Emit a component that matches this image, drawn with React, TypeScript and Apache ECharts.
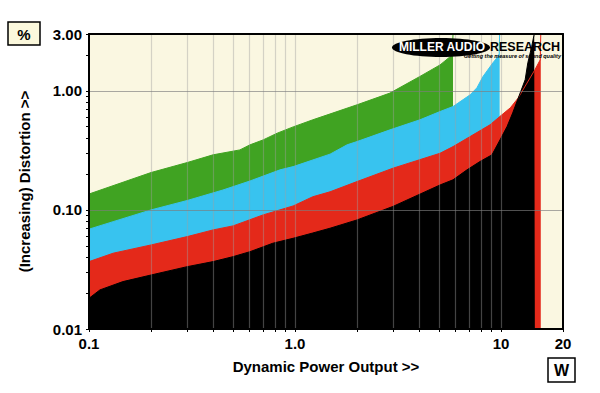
import React, { useEffect, useRef } from "react";
import * as echarts from "echarts";

// Dynamic power (W) vs distortion (%) – four load curves
const greenX = [0.1, 0.2, 0.3, 0.4, 0.54, 0.605, 0.7, 0.82, 0.98, 1.22, 2.0, 2.89, 4.04, 5.06, 5.8, 5.85];
const greenY = [0.136, 0.206, 0.25, 0.29, 0.319, 0.352, 0.387, 0.441, 0.498, 0.571, 0.763, 0.957, 1.32, 1.65, 2.0, 3.0];

const cyanX = [0.1, 0.131, 0.2, 0.3, 0.447, 0.605, 0.846, 0.98, 1.48, 1.79, 2.0, 2.89, 4.04, 5.06, 5.85, 7.08, 7.64, 8.18, 9.14, 9.67, 9.8, 9.85];
const cyanY = [0.0689, 0.0797, 0.1, 0.12, 0.147, 0.175, 0.217, 0.231, 0.294, 0.352, 0.375, 0.47, 0.571, 0.67, 0.738, 0.925, 1.06, 1.32, 1.72, 1.94, 2.05, 3.0];

const redX = [0.1, 0.131, 0.2, 0.3, 0.4, 0.5, 0.7, 0.98, 1.22, 1.48, 2.0, 2.99, 5.06, 5.85, 7.08, 8.84, 10.1, 11.1, 12.1, 14.6, 15.5, 15.6];
const redY = [0.0368, 0.0433, 0.0508, 0.0597, 0.0679, 0.0734, 0.0908, 0.108, 0.129, 0.142, 0.173, 0.224, 0.299, 0.34, 0.413, 0.518, 0.629, 0.72, 0.868, 1.5, 1.82, 3.0];

const blackX = [0.1, 0.113, 0.146, 0.2, 0.3, 0.4, 0.5, 0.605, 0.78, 0.98, 1.22, 1.48, 2.0, 2.99, 5.06, 5.85, 6.84, 7.91, 9.04, 9.89, 10.7, 11.4, 12.4, 13.1, 13.5, 14.1, 14.5, 14.6];
const blackY = [0.0181, 0.0213, 0.025, 0.0284, 0.0334, 0.0368, 0.0405, 0.0446, 0.0525, 0.0578, 0.064, 0.0702, 0.0824, 0.107, 0.162, 0.179, 0.217, 0.255, 0.29, 0.387, 0.501, 0.653, 0.962, 1.24, 1.72, 2.36, 3.0, 3.0];

// axes
const xLabelValues = [0.1, 1, 10, 20];
const xLabelTexts = ["0.1", "1.0", "10", "20"];
const xTickValues = [0.1, 0.2, 0.3, 0.4, 0.5, 0.6, 0.7, 0.8, 0.9, 1, 2, 3, 4, 5, 6, 7, 8, 9, 10, 20];
const xGridValues = [0.2, 0.3, 0.4, 0.5, 0.6, 0.7, 0.8, 0.9, 1, 2, 3, 4, 5, 6, 7, 8, 9, 10];

const yLabelValues = [0.01, 0.1, 1, 3];
const yLabelTexts = ["0.01", "0.10", "1.00", "3.00"];
const yTickValues = [0.01, 0.02, 0.03, 0.04, 0.05, 0.06, 0.07, 0.08, 0.09, 0.1, 0.2, 0.3, 0.4, 0.5, 0.6, 0.7, 0.8, 0.9, 1, 2, 3];
const yGridValues = [0.1, 1];

const FONT = "'Liberation Sans', Arial, Helvetica, sans-serif";

function pairs(xs: number[], ys: number[]) {
  return xs.map((x, i) => [x, ys[i]]);
}

function labelFor(values: number[], texts: string[]) {
  return (v: number) => {
    for (let i = 0; i < values.length; i++) {
      if (Math.abs(Math.log10(v) - Math.log10(values[i])) < 1e-4) return texts[i];
    }
    return "";
  };
}

function areaSeries(name: string, color: string, xs: number[], ys: number[]) {
  return {
    name,
    type: "line",
    data: pairs(xs, ys),
    showSymbol: false,
    symbol: "none",
    lineStyle: { color, width: 1 },
    areaStyle: { color, opacity: 1, origin: "start" },
    itemStyle: { color },
    silent: true,
  };
}

export default function App() {
  const ref = useRef<HTMLDivElement>(null);

  useEffect(() => {
    if (!ref.current) return;
    const chart = echarts.init(ref.current, null, { renderer: "svg" });
    const frameAxis = { show: true, lineStyle: { color: "#000", width: 2 } };
    const option: any = {
      animation: false,
      backgroundColor: "#ffffff",
      grid: {
        left: 89,
        right: 37,
        top: 34,
        bottom: 64,
        show: true,
        backgroundColor: "#faf7e1",
        borderWidth: 0,
      },
      xAxis: [
        {
          type: "log",
          logBase: 10,
          min: 0.1,
          max: 20,
          z: 10,
          axisLine: { ...frameAxis, onZero: false },
          axisTick: {
            show: true,
            inside: false,
            length: 3,
            lineStyle: { color: "#000", width: 1 },
            customValues: xTickValues,
          },
          axisLabel: {
            show: true,
            margin: 7,
            color: "#000",
            fontFamily: FONT,
            fontWeight: "bold",
            fontSize: 15,
            customValues: xLabelValues,
            formatter: labelFor(xLabelValues, xLabelTexts),
          },
          splitLine: { show: false },
          minorTick: { show: false },
          name: "Dynamic Power Output >>",
          nameLocation: "middle",
          nameGap: 30,
          nameTextStyle: { color: "#000", fontFamily: FONT, fontWeight: "bold", fontSize: 15 },
        },
        {
          type: "log",
          logBase: 10,
          min: 0.1,
          max: 20,
          position: "top",
          z: 10,
          axisLine: { ...frameAxis, onZero: false },
          axisTick: { show: false },
          axisLabel: { show: false },
          splitLine: { show: false },
        },
      ],
      yAxis: [
        {
          type: "log",
          logBase: 10,
          min: 0.01,
          max: 3,
          z: 10,
          axisLine: { ...frameAxis, onZero: false },
          axisTick: {
            show: true,
            inside: false,
            length: 3,
            lineStyle: { color: "#000", width: 1 },
            customValues: yTickValues,
          },
          axisLabel: {
            show: true,
            margin: 7,
            color: "#000",
            fontFamily: FONT,
            fontWeight: "bold",
            fontSize: 15,
            customValues: yLabelValues,
            formatter: labelFor(yLabelValues, yLabelTexts),
          },
          splitLine: { show: false },
          minorTick: { show: false },
          name: "(Increasing) Distortion >>",
          nameLocation: "middle",
          nameGap: 57,
          nameTextStyle: { color: "#000", fontFamily: FONT, fontWeight: "bold", fontSize: 15 },
        },
        {
          type: "log",
          logBase: 10,
          min: 0.01,
          max: 3,
          position: "right",
          z: 10,
          axisLine: { ...frameAxis, onZero: false },
          axisTick: { show: false },
          axisLabel: { show: false },
          splitLine: { show: false },
        },
      ],
      series: [
        areaSeries("green", "#40a322", greenX, greenY),
        areaSeries("cyan", "#38c3ef", cyanX, cyanY),
        areaSeries("red", "#e4291a", redX, redY),
        areaSeries("black", "#000000", blackX, blackY),
        {
          name: "grid",
          type: "line",
          data: [[0.1, 0.01]],
          showSymbol: false,
          symbol: "none",
          lineStyle: { opacity: 0 },
          z: 5,
          silent: true,
          markLine: {
            silent: true,
            symbol: "none",
            label: { show: false },
            animation: false,
            data: [
              ...xGridValues.map((v) => ({
                xAxis: v,
                lineStyle: { color: "rgba(160,160,160,0.42)", width: 1.2, type: "solid" },
              })),
              ...yGridValues.map((v) => ({
                yAxis: v,
                lineStyle: { color: "rgba(125,125,125,0.65)", width: 1.2, type: "solid" },
              })),
            ],
          },
        },
      ],
      graphic: [
        {
          type: "rect",
          z: 100,
          shape: { x: 8, y: 22, width: 32, height: 23 },
          style: { fill: "#fbf8dc", stroke: "#000", lineWidth: 1.5 },
        },
        {
          type: "text",
          z: 101,
          x: 24,
          y: 34,
          style: {
            text: "%",
            fill: "#000",
            font: `bold 15px ${FONT}`,
            textAlign: "center",
            textVerticalAlign: "middle",
          },
        },
        {
          type: "rect",
          z: 100,
          shape: { x: 548, y: 358, width: 27, height: 24 },
          style: { fill: "#ffffff", stroke: "#000", lineWidth: 1.5 },
        },
        {
          type: "text",
          z: 101,
          x: 561.5,
          y: 370.5,
          style: {
            text: "W",
            fill: "#000",
            font: `bold 16px ${FONT}`,
            textAlign: "center",
            textVerticalAlign: "middle",
          },
        },
        {
          type: "ellipse",
          z: 100,
          shape: { cx: 441, cy: 47.5, rx: 49, ry: 9.5 },
          style: { fill: "#000" },
        },
        {
          type: "text",
          z: 101,
          x: 442,
          y: 47,
          style: {
            text: "MILLER AUDIO",
            fill: "#fff",
            font: `bold 12px ${FONT}`,
            textAlign: "center",
            textVerticalAlign: "middle",
          },
        },
        {
          type: "text",
          z: 101,
          x: 490,
          y: 47,
          style: {
            text: "RESEARCH",
            fill: "#000",
            font: `bold 12.5px ${FONT}`,
            textAlign: "left",
            textVerticalAlign: "middle",
          },
        },
        {
          type: "text",
          z: 101,
          x: 561,
          y: 56,
          style: {
            text: "Getting the measure of sound quality",
            fill: "#000",
            font: `italic bold 5.5px 'Liberation Sans Narrow', ${FONT}`,
            textAlign: "right",
            textVerticalAlign: "middle",
          },
        },
      ],
    };
    chart.setOption(option);
    return () => chart.dispose();
  }, []);

  return (
    <div
      ref={ref}
      style={{ position: "fixed", left: 0, top: 0, width: 600, height: 393, background: "#fff" }}
    />
  );
}
